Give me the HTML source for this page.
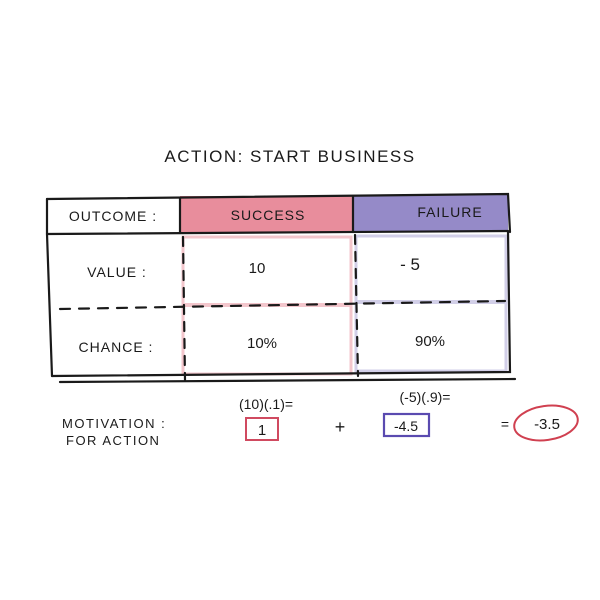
<!DOCTYPE html>
<html><head><meta charset="utf-8"><style>
html,body{margin:0;padding:0;background:#fff;width:600px;height:600px;overflow:hidden}
text{font-family:"Liberation Sans",sans-serif;fill:#1a1a1a}
</style></head><body>
<svg width="600" height="600" viewBox="0 0 600 600" xmlns="http://www.w3.org/2000/svg">
<text x="290" y="162" font-size="17" text-anchor="middle" letter-spacing="1.5">ACTION: START BUSINESS</text>
<rect x="180" y="196" width="173" height="37" fill="#e88d9c"/>
<rect x="353" y="195" width="155" height="37" fill="#958ac8"/>
<rect x="183" y="237" width="168" height="137" fill="none" stroke="#f3c6cc" stroke-width="3"/>
<rect x="356" y="236" width="150" height="135" fill="none" stroke="#d2cfe8" stroke-width="3"/>
<line x1="183" y1="305" x2="351" y2="305" stroke="#f3c6cc" stroke-width="4"/>
<line x1="356" y1="302" x2="506" y2="302" stroke="#d2cfe8" stroke-width="4"/>
<g stroke="#1a1a1a" stroke-width="2.2" fill="none" stroke-linecap="round">
<path d="M47 199 L508 194 L510 232 M508 232 L510 372 L52 376"/>
<path d="M47 199 L47 234 L52 376"/>
<path d="M47 234 L508 231"/>
<path d="M60 382 L515 379"/>
<path d="M180 198 L180 233"/>
<path d="M353 196 L353 232"/>
<path d="M183 237 L185 380" stroke-dasharray="9 8"/>
<path d="M355 235 L358 376" stroke-dasharray="9 8"/>
<path d="M60 309 L505 301" stroke-dasharray="10 9"/>
</g>
<text x="113" y="221" font-size="14" text-anchor="middle" letter-spacing="1">OUTCOME :</text>
<text x="268" y="220" font-size="14" text-anchor="middle" letter-spacing="1">SUCCESS</text>
<text x="450" y="217" font-size="14" text-anchor="middle" letter-spacing="1">FAILURE</text>
<text x="117" y="277" font-size="14" text-anchor="middle" letter-spacing="1">VALUE :</text>
<text x="116" y="352" font-size="14" text-anchor="middle" letter-spacing="1">CHANCE :</text>
<text x="257" y="273" font-size="15" text-anchor="middle">10</text>
<text x="410" y="270" font-size="17" text-anchor="middle">- 5</text>
<text x="262" y="348" font-size="15" text-anchor="middle">10%</text>
<text x="430" y="346" font-size="15" text-anchor="middle">90%</text>
<text x="62" y="428" font-size="13" letter-spacing="1.5">MOTIVATION :</text>
<text x="66" y="445" font-size="13" letter-spacing="1.5">FOR ACTION</text>
<text x="266" y="409" font-size="14" text-anchor="middle">(10)(.1)=</text>
<text x="425" y="402" font-size="14" text-anchor="middle">(-5)(.9)=</text>
<rect x="246" y="418" width="32" height="22" fill="none" stroke="#d04a60" stroke-width="2"/>
<text x="262" y="435" font-size="15" text-anchor="middle">1</text>
<text x="340" y="433" font-size="18" text-anchor="middle">+</text>
<rect x="384" y="414" width="45" height="22" fill="none" stroke="#5a4ab0" stroke-width="2.2"/>
<text x="406" y="431" font-size="14" text-anchor="middle">-4.5</text>
<text x="505" y="429" font-size="14" text-anchor="middle">=</text>
<ellipse cx="546" cy="423" rx="32" ry="17" fill="none" stroke="#d04050" stroke-width="2" transform="rotate(-8 546 423)"/>
<text x="547" y="429" font-size="15" text-anchor="middle">-3.5</text>
</svg>
</body></html>
